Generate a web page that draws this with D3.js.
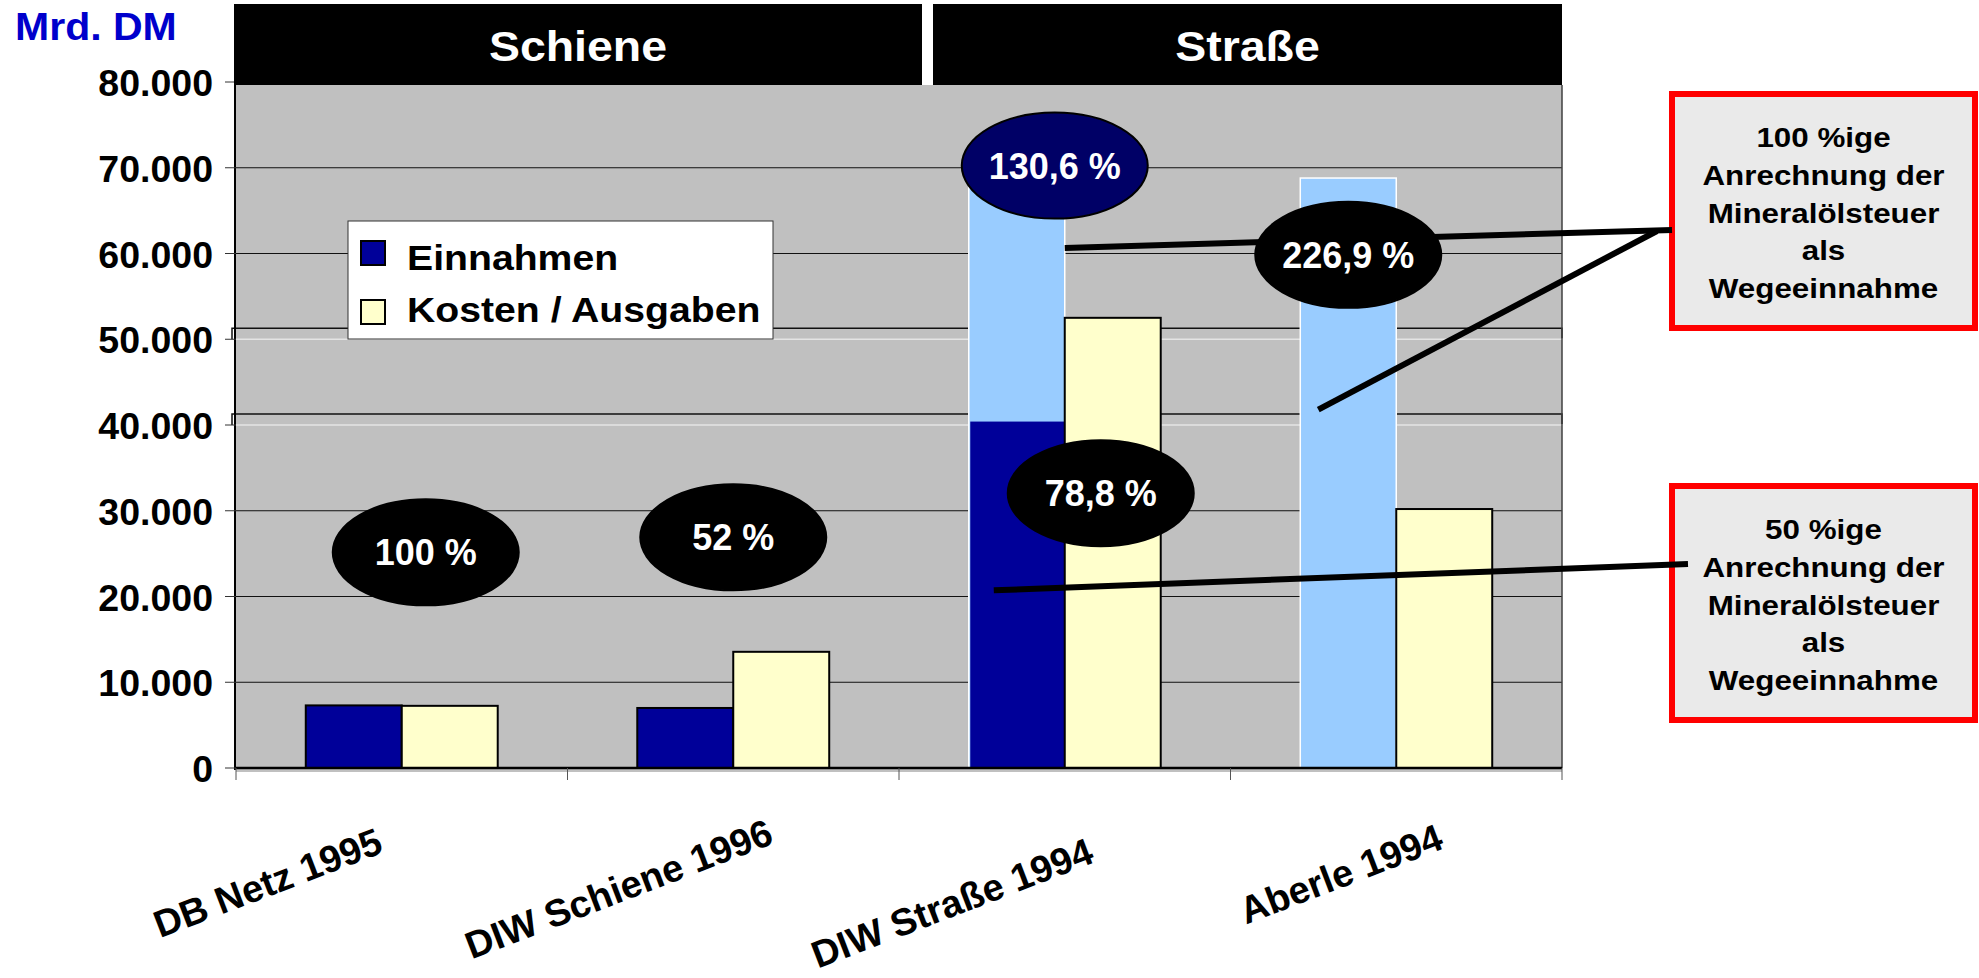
<!DOCTYPE html>
<html>
<head>
<meta charset="utf-8">
<script src="https://cdn.jsdelivr.net/npm/d3@7"></script>
<style>
  body { margin: 0; background: #fff; }
  svg { display: block; }
  text { font-family: "Liberation Sans", Arial, sans-serif; font-weight: bold; }
</style>
</head>
<body>
<svg id="chart" width="1979" height="978"></svg>
<script>
// --- data (Mrd. DM) ---
var categories = ["DB Netz 1995", "DIW Schiene 1996", "DIW Straße 1994", "Aberle 1994"];
var seriesNames = ["Einnahmen", "Kosten / Ausgaben"];
// Einnahmen (50 % Mineralölsteuer for the road case)
var einnahmen = [7300, 7000, 40400, null];
// Einnahmen with 100 % Mineralölsteuer (light blue)
var einnahmenVoll = [null, null, 68600, 68800];
var kosten = [7250, 13550, 52500, 30200];
var yTicks = [0, 10000, 20000, 30000, 40000, 50000, 60000, 70000, 80000];
var groups = ["Schiene", "Straße"];
var groupFirst = [0, 2];
var groupLast = [1, 3];
var ratioLabels = ["100 %", "52 %", "130,6 %", "78,8 %", "226,9 %"];
var ratioCategory = [0, 1, 2, 2, 3];
var callouts = [
    ["100 %ige", "Anrechnung der", "Mineralölsteuer", "als", "Wegeeinnahme"],
    ["50 %ige", "Anrechnung der", "Mineralölsteuer", "als", "Wegeeinnahme"]
];

// --- layout (pixels / positions, not data) ---
var ratioDx = [24, 0, -10, 36, -48];          // offset from band centre
var ratioAt = [25150, 26900, 70250, 32050, 59850]; // vertical anchor on the y scale
var labelDx = [-17, 42, 31, 49];
var labelY = [852, 843, 862, 848];
var headerPad = [[-2, 23], [34, 0]];

var svg = d3.select("#chart");
var W = 1979, H = 978;
var plotLeft = 236, plotRight = 1562, plotTop = 85, y0 = 768;

var x = d3.scaleBand().domain(categories).range([plotLeft, plotRight]).padding(0);
var inner = d3.scaleBand().domain(["e", "k"]).range([0, x.bandwidth()])
    .paddingInner(0).paddingOuter(0.727);
var y = d3.scaleLinear().domain([0, 80000]).range([y0, 82]);

var de = d3.formatLocale({decimal: ",", thousands: ".", grouping: [3], currency: ["", ""]});
var fmt = de.format(",");

function sText(g, px, py, str, size, sx, anchor, fill) {
    return g.append("text")
        .attr("transform", "translate(" + px + "," + py + ") scale(" + sx + ",1)")
        .attr("text-anchor", anchor)
        .style("font-size", size + "px")
        .attr("fill", fill)
        .text(str);
}

svg.append("rect").attr("width", W).attr("height", H).attr("fill", "#fff");

// plot area
svg.append("rect")
    .attr("x", plotLeft).attr("y", plotTop)
    .attr("width", plotRight - plotLeft).attr("height", y0 - plotTop + 4)
    .attr("fill", "#C0C0C0");

// gridlines
yTicks.slice(1, -1).forEach(function(t) {
    var odd = (t === 40000 || t === 50000);
    svg.append("line")
        .attr("x1", plotLeft).attr("x2", plotRight)
        .attr("y1", y(t)).attr("y2", y(t))
        .attr("stroke", odd ? "#e4e4e4" : "#111")
        .attr("stroke-width", odd ? 1.5 : 1.2);
    if (odd) {
        // leftover frame edges of the pasted second chart
        var yy = y(t) - 11;
        svg.append("path")
            .attr("d", "M" + (plotLeft - 4) + "," + (yy + 11) + "V" + yy + "H" + plotRight + "V" + (yy + 10))
            .attr("fill", "none").attr("stroke", "#111").attr("stroke-width", 1.5);
    }
});

// right border
svg.append("line").attr("x1", plotRight).attr("x2", plotRight).attr("y1", plotTop).attr("y2", y0)
    .attr("stroke", "#404040").attr("stroke-width", 1.5);

// legend
var lg = svg.append("g");
lg.append("rect").attr("x", 348).attr("y", 221).attr("width", 425).attr("height", 118)
    .attr("fill", "#fff").attr("stroke", "#333").attr("stroke-width", 1);
lg.append("rect").attr("x", 361).attr("y", 241).attr("width", 24).attr("height", 24)
    .attr("fill", "#000099").attr("stroke", "#000").attr("stroke-width", 2);
lg.append("rect").attr("x", 361).attr("y", 300).attr("width", 24).attr("height", 24)
    .attr("fill", "#FFFFCC").attr("stroke", "#000").attr("stroke-width", 2);
sText(lg, 407, 270, seriesNames[0], 35, 1.12, "start", "#000");
sText(lg, 407, 322, seriesNames[1], 35, 1.12, "start", "#000");

// bars
var bw = inner.bandwidth();
categories.forEach(function(c, i) {
    if (einnahmenVoll[i] != null) {
        svg.append("rect")
            .attr("x", x(c) + inner("e")).attr("y", y(einnahmenVoll[i]))
            .attr("width", bw).attr("height", y(0) - y(einnahmenVoll[i]))
            .attr("fill", "#99CCFF").attr("stroke", "#fff").attr("stroke-width", 1.5);
    }
    if (einnahmen[i] != null) {
        var road = einnahmenVoll[i] != null;
        svg.append("rect")
            .attr("x", x(c) + inner("e") + (road ? 1.5 : 0)).attr("y", y(einnahmen[i]))
            .attr("width", bw - (road ? 1.5 : 0)).attr("height", y(0) - y(einnahmen[i]))
            .attr("fill", "#000099")
            .attr("stroke", road ? "none" : "#000").attr("stroke-width", 2);
    }
    svg.append("rect")
        .attr("x", x(c) + inner("k")).attr("y", y(kosten[i]))
        .attr("width", bw).attr("height", y(0) - y(kosten[i]))
        .attr("fill", "#FFFFCC").attr("stroke", "#000").attr("stroke-width", 2);
});

// axes
svg.append("line").attr("x1", plotLeft - 1).attr("x2", plotLeft - 1).attr("y1", plotTop).attr("y2", y0 + 2)
    .attr("stroke", "#000").attr("stroke-width", 2);
svg.append("line").attr("x1", plotLeft - 1).attr("x2", plotRight).attr("y1", y0).attr("y2", y0)
    .attr("stroke", "#000").attr("stroke-width", 2.5);
yTicks.forEach(function(t) {
    svg.append("line").attr("x1", 225).attr("x2", plotLeft).attr("y1", y(t)).attr("y2", y(t))
        .attr("stroke", "#333").attr("stroke-width", 1);
    sText(svg, 213, y(t) + 14, fmt(t), 37.5, 1, "end", "#000");
});
categories.concat([null]).forEach(function(c) {
    var px = c ? x(c) : plotRight;
    svg.append("line").attr("x1", px).attr("x2", px).attr("y1", y0).attr("y2", y0 + 12)
        .attr("stroke", "#555").attr("stroke-width", 1);
});
categories.forEach(function(c, i) {
    svg.append("text")
        .attr("transform", "translate(" + (x(c) + x.bandwidth() / 2 + labelDx[i]) + "," + labelY[i] + ") rotate(-21)")
        .attr("text-anchor", "end")
        .style("font-size", "38px")
        .text(c);
});

// callout boxes
var boxTop = [91, 483];
callouts.forEach(function(lines, k) {
    svg.append("rect").attr("x", 1672).attr("y", boxTop[k] + 3)
        .attr("width", 303).attr("height", 234)
        .attr("fill", "#EAEAEA").attr("stroke", "#FF0000").attr("stroke-width", 6);
    lines.forEach(function(s, j) {
        sText(svg, 1823.5, boxTop[k] + 56 + j * 37.8, s, 28, 1.12, "middle", "#000");
    });
});

// leader lines
var leaders = [
    [x(categories[2]) + inner("e") + bw, y(60650), 1672, 230],
    [x(categories[3]) + inner("e") + 18, y(41800), 1657, 231],
    [x(categories[2]) + inner("e") + 25, y(20720), 1688, 564]
];
leaders.forEach(function(l) {
    svg.append("line").attr("x1", l[0]).attr("y1", l[1]).attr("x2", l[2]).attr("y2", l[3])
        .attr("stroke", "#000").attr("stroke-width", 6);
});

// ratio ellipses
ratioLabels.forEach(function(s, i) {
    var c = categories[ratioCategory[i]];
    var cx = x(c) + x.bandwidth() / 2 + ratioDx[i];
    var cy = y(ratioAt[i]);
    var navy = (s === "130,6 %");
    svg.append("ellipse").attr("cx", cx).attr("cy", cy).attr("rx", 93).attr("ry", 53)
        .attr("fill", navy ? "#000066" : "#000")
        .attr("stroke", "#000").attr("stroke-width", 2);
    sText(svg, cx, cy + 13, s, 36, 1, "middle", "#fff");
});

// group headers
groups.forEach(function(gname, k) {
    var x1 = x(categories[groupFirst[k]]) + headerPad[k][0];
    var x2 = x(categories[groupLast[k]]) + x.bandwidth() + headerPad[k][1];
    svg.append("rect").attr("x", x1).attr("y", 4).attr("width", x2 - x1).attr("height", 81)
        .attr("fill", "#000");
    sText(svg, (x1 + x2) / 2, 61, gname, 43, 1.08, "middle", "#fff");
});

sText(svg, 15, 40, "Mrd. DM", 38, 1.08, "start", "#0000CC");
</script>
</body>
</html>
